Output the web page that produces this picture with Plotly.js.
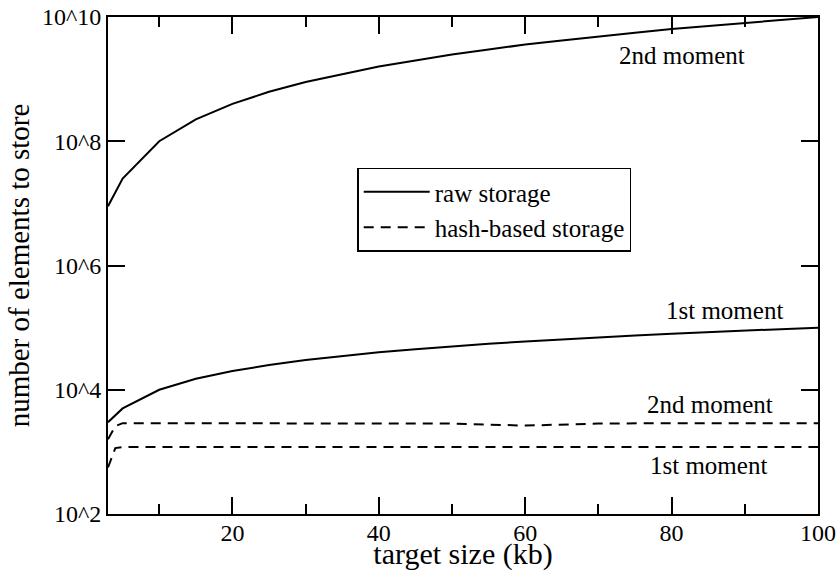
<!DOCTYPE html>
<html>
<head>
<meta charset="utf-8">
<script src="https://cdn.plot.ly/plotly-3.0.1.min.js"></script>
<style>html,body{margin:0;padding:0;background:#fff;}#chart{width:840px;height:571px;}</style>
</head>
<body>
<div id="chart"></div>
<script>
// target size (kb)
var rawX = [3, 5, 10, 15, 20, 25, 30, 35, 40, 45, 50, 55, 60, 65, 70, 75, 80, 85, 90, 95, 100];
// raw storage, 2nd moment
var raw2nd = [9e6, 2.5e7, 1e8, 2.25e8, 4e8, 6.25e8, 9e8, 1.2e9, 1.6e9, 2e9, 2.5e9, 3e9, 3.6e9, 4.2e9, 4.9e9, 5.6e9, 6.4e9, 7.2e9, 8.1e9, 9e9, 1e10];
// raw storage, 1st moment
var raw1st = [3000, 5000, 10000, 15000, 20000, 25000, 30000, 35000, 40000, 45000, 50000, 55000, 60000, 65000, 70000, 75000, 80000, 85000, 90000, 95000, 100000];

var hashX = [3, 4, 5, 10, 20, 30, 40, 50, 60, 70, 80, 90, 100];
// hash-based storage, 2nd moment
var hash2nd = [1600, 2600, 2900, 2900, 2900, 2900, 2900, 2850, 2650, 2850, 2900, 2900, 2900];
// hash-based storage, 1st moment
var hash1st = [560, 1150, 1200, 1200, 1200, 1200, 1200, 1200, 1200, 1200, 1200, 1200, 1200];

var xTickVals = [20, 40, 60, 80, 100];
var xMinorVals = [10, 30, 50, 70, 90];
var yTickVals = [1e2, 1e4, 1e6, 1e8, 1e10];
var yTickText = ['10^2', '10^4', '10^6', '10^8', '10^10'];

var legendNames = ['raw storage', 'hash-based storage'];
var curveLabels = ['2nd moment', '1st moment', '2nd moment', '1st moment'];

var FONT = 'Liberation Serif';
var dashStyle = '10px,7px';

var traces = [
  {x: rawX, y: raw2nd, mode: 'lines', name: legendNames[0], legendgroup: 'raw', showlegend: true,
   line: {color: '#000', width: 2, dash: 'solid'}},
  {x: rawX, y: raw1st, mode: 'lines', name: legendNames[0], legendgroup: 'raw', showlegend: false,
   line: {color: '#000', width: 2, dash: 'solid'}},
  {x: hashX, y: hash2nd, mode: 'lines', name: legendNames[1], legendgroup: 'hash', showlegend: true,
   line: {color: '#000', width: 2, dash: dashStyle}},
  {x: hashX, y: hash1st, mode: 'lines', name: legendNames[1], legendgroup: 'hash', showlegend: false,
   line: {color: '#000', width: 2, dash: dashStyle}}
];

var annFont = {family: FONT, size: 25, color: '#000'};
function ann(px, py, txt) {
  return {x: px, y: py, xref: 'paper', yref: 'paper', xanchor: 'center', yanchor: 'middle',
          text: txt, showarrow: false, font: annFont};
}
var layout = {
  width: 840, height: 571,
  margin: {l: 108, r: 22, t: 17, b: 57},
  paper_bgcolor: '#fff', plot_bgcolor: '#fff',
  font: {family: FONT, color: '#000', size: 24},
  showlegend: true,
  legend: {x: 0.351, y: 0.697, xanchor: 'left', yanchor: 'top',
           bordercolor: '#000', borderwidth: 1.5, bgcolor: '#fff', itemwidth: 66,
           font: {family: FONT, size: 25, color: '#000'}, tracegroupgap: 0},
  xaxis: {
    range: [3, 100], type: 'linear',
    tickvals: xTickVals, ticktext: xTickVals.map(String),
    ticks: 'inside', ticklen: 17, tickwidth: 2, tickcolor: '#000',
    ticklabelstandoff: -4,
    minor: {tickvals: xMinorVals, ticks: 'inside', ticklen: 10, tickwidth: 2, tickcolor: '#000'},
    showline: true, linecolor: '#000', linewidth: 2, mirror: 'ticks',
    showgrid: false, zeroline: false,
    tickfont: {family: FONT, size: 24, color: '#000'},
    title: {text: 'target size (kb)', font: {family: FONT, size: 30, color: '#000'}, standoff: 6}
  },
  yaxis: {
    type: 'log', range: [2, 10],
    tickvals: yTickVals, ticktext: yTickText,
    ticks: 'inside', ticklen: 17, tickwidth: 2, tickcolor: '#000',
    showline: true, linecolor: '#000', linewidth: 2, mirror: 'ticks',
    showgrid: false, zeroline: false,
    tickfont: {family: FONT, size: 24, color: '#000'},
    title: {text: 'number of elements to store', font: {family: FONT, size: 29, color: '#000'}, standoff: 4}
  },
  annotations: [
    ann(0.808, 0.923, curveLabels[0]),
    ann(0.869, 0.410, curveLabels[1]),
    ann(0.848, 0.221, curveLabels[2]),
    ann(0.846, 0.097, curveLabels[3])
  ]
};

Plotly.newPlot('chart', traces, layout, {displayModeBar: false, staticPlot: true});
</script>
</body>
</html>
